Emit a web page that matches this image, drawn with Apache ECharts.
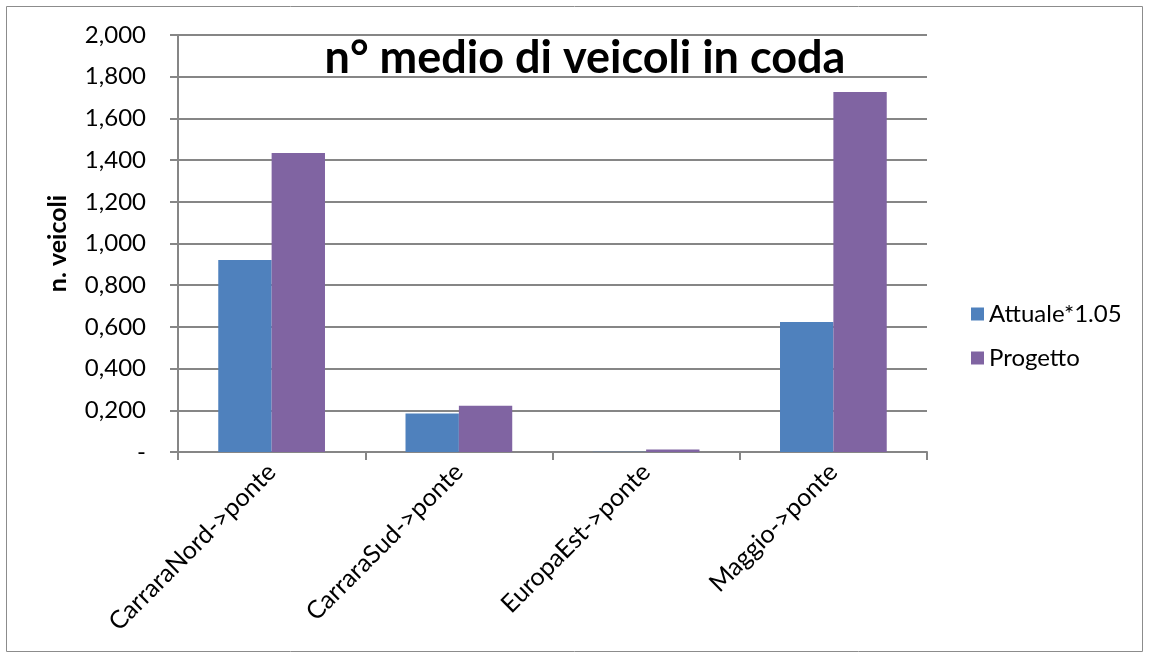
<!DOCTYPE html>
<html><head><meta charset="utf-8">
<script src="https://cdn.jsdelivr.net/npm/echarts@6/dist/echarts.min.js"></script>
<style>html,body{margin:0;padding:0;background:#fff}#c{width:1150px;height:659px}</style>
</head><body><div id="c"></div>
<script>
const categories = ['CarraraNord->ponte','CarraraSud->ponte','EuropaEst->ponte','Maggio->ponte'];
const attuale = [0.921, 0.185, 0.001, 0.624];
const progetto = [1.434, 0.222, 0.012, 1.727];
const seriesNames = ['Attuale*1.05','Progetto'];
const titleText = 'n° medio di veicoli in coda';
const yAxisTitle = 'n. veicoli';

const FONT = 'Lato, "Open Sans", sans-serif';
const chart = echarts.init(document.getElementById('c'));
chart.setOption({
  animation:false,
  graphic:[{type:'rect',shape:{x:6.5,y:6.5,width:1136,height:645},style:{fill:'none',stroke:'#8c8c8c',lineWidth:1}}],
  title:{text:titleText,left:580,top:31,textAlign:'center',textStyle:{fontFamily:FONT,fontWeight:'bold',fontSize:45,color:'#000'}},
  legend:{orient:'vertical',left:966,top:297,itemWidth:13,itemHeight:13,itemGap:20,icon:'rect',
    textStyle:{fontFamily:FONT,fontSize:24,color:'#000'},data:seriesNames},
  grid:{left:178,right:223,top:35,bottom:207,containLabel:false},
  xAxis:{type:'category',data:categories,
    axisLine:{lineStyle:{color:'#868686',width:2}},
    axisTick:{show:true,length:8,lineStyle:{color:'#868686',width:2}},
    axisLabel:{rotate:45,fontFamily:FONT,fontSize:25,color:'#000',margin:16,interval:0}},
  yAxis:{type:'value',min:0,max:2,interval:0.2,
    name:yAxisTitle,nameLocation:'middle',nameGap:108,nameRotate:90,
    nameTextStyle:{fontFamily:FONT,fontWeight:'bold',fontSize:25,color:'#000'},
    axisLine:{show:true,lineStyle:{color:'#868686',width:2}},
    axisTick:{show:true,length:8,lineStyle:{color:'#868686',width:2}},
    splitLine:{lineStyle:{color:'#868686',width:2}},
    axisLabel:{fontFamily:FONT,fontSize:24,color:'#000',margin:32,
      formatter:v=> v===0 ? '-' : v.toFixed(3).replace('.',',')}},
  series:[
    {name:seriesNames[0],type:'bar',data:attuale,barGap:'0%',barCategoryGap:'43%',itemStyle:{color:'#4F81BD'}},
    {name:seriesNames[1],type:'bar',data:progetto,barGap:'0%',barCategoryGap:'43%',itemStyle:{color:'#8064A2'}}
  ]
});
</script></body></html>
